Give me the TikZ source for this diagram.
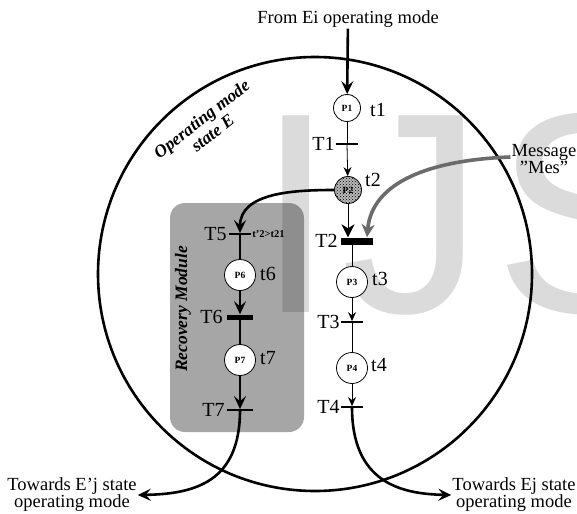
\documentclass[tikz,border=0pt]{standalone}
\usepackage{fontspec}
\setmainfont{Liberation Serif}
\newfontfamily\markfont{Liberation Sans}
\usepackage{tikz}
\usetikzlibrary{arrows.meta,patterns}
\definecolor{boxgray}{HTML}{A6A6A6}
\definecolor{msggray}{HTML}{6B6B6B}
\tikzset{place/.style={circle,draw,line width=0.8,fill=white,minimum size=27,
        inner sep=0,font=\fontsize{9.5}{10}\selectfont\bfseries},
    bigplace/.style={place,minimum size=31},
    bar/.style={fill=black,inner sep=0,minimum width=22,minimum height=1.4},
    thickbar/.style={bar,minimum height=6},
    lbl/.style={font=\fontsize{20}{22}\selectfont,inner sep=1},
    note/.style={font=\fontsize{18.5}{17}\selectfont,align=center,inner sep=1},
    flow/.style={line width=2.6,-{Stealth[length=13,width=12,inset=5]}},
    arc/.style={line width=0.8},
    tip/.style={line width=0.8,-{Stealth[length=9,width=8,inset=3]}}}

\begin{document}
\begin{tikzpicture}[x=1pt,y=-1pt,
        heavy/.style={line width=2.6},
        emph/.style={font=\fontsize{17.5}{18}\selectfont\bfseries\itshape,align=center}]
    \useasboundingbox (0,0) rectangle (577,513);
    \fill[boxgray,rounded corners=15] (170,203) rectangle (304,432);
    \begin{scope}
        \clip (0,0) rectangle (577,513);
        \node[anchor=base west,inner sep=0,text=black,text opacity=0.14,
            font=\markfont\fontsize{286}{286}\selectfont] (mark) at (256,312) {I\kern 6pt J\kern 10pt S};
    \end{scope}
    \draw[line width=2.6] (315,274) circle [radius=217];

    \node[place] (P1) at (347,108) {P1};
    \node[bar] (T1) at (347,144) {};
    \node[place,preaction={fill=gray!55},pattern=crosshatch dots] (P2) at (348,190) {P2};
    \node[thickbar,minimum width=32,minimum height=7] (T2) at (357,241) {};
    \node[bigplace] (P3) at (352,282) {P3};
    \node[bar] (T3) at (352,322) {};
    \node[bigplace] (P4) at (352,368) {P4};
    \node[bar] (T4) at (352,407) {};

    \node[bar] (T5) at (240,234) {};
    \node[bigplace] (P6) at (240,275) {P6};
    \node[thickbar,minimum width=26,minimum height=5] (T6) at (240,317) {};
    \node[bigplace] (P7) at (240,360) {P7};
    \node[bar,minimum width=26] (T7) at (240,410) {};

    \node[lbl,anchor=west] (t1) at (369,110) {t1};
    \node[lbl,anchor=west] (t2) at (364,180) {t2};
    \node[lbl,anchor=west] (t3) at (371,279) {t3};
    \node[lbl,anchor=west] (t4) at (370,365) {t4};
    \node[lbl,anchor=west] (t6) at (259,274) {t6};
    \node[lbl,anchor=west] (t7) at (259,358) {t7};
    \node[lbl,anchor=east] (l1) at (T1.west) {T1};
    \node[lbl,anchor=east] (l2) at ([xshift=-2]T2.west) {T2};
    \node[lbl,anchor=east] (l3) at (T3.west) {T3};
    \node[lbl,anchor=east] (l4) at (T4.west) {T4};
    \node[lbl,anchor=east] (l5) at ([xshift=-1]T5.west) {T5};
    \node[lbl,anchor=east] (l6) at ([xshift=-3]T6.west) {T6};
    \node[lbl,anchor=east] (l7) at ([xshift=-1]T7.west) {T7};
    \node[anchor=west,inner sep=1,font=\fontsize{10.5}{11}\selectfont\bfseries] (cond) at (T5.east) {t'2>t21};

    \node[note] (src) at (348,19) {From Ei operating mode};
    \node[note] (mes) at (544,159) {Message\\"Mes"};
    \node[note] (tej) at (72,495) {Towards E'j state\\operating mode};
    \node[note] (tj) at (514,495) {Towards Ej state\\operating mode};
    \node[emph,rotate=38] (opmode) at (207,126) {Operating mode\\state E};
    \node[emph,rotate=90] (recov) at (183,309) {Recovery Module};

    \draw[flow] (src) -- (P1);
    \draw[arc] (P1) -- (T1);
    \draw[tip] (T1) -- (P2);
    \draw[arc,-{Stealth[length=13,width=13,inset=4]}] (P2) -- (P2 |- T2.north);
    \draw[arc] (T2.south -| P3) -- (P3);
    \draw[tip] (P3) -- (T3);
    \draw[arc] (T3) -- (P4);
    \draw[tip] (P4) -- (T4);
    \draw[msggray,line width=3.6,-{Stealth[length=13,width=13,inset=4]}]
        ([yshift=2]mes.west) .. controls (430,160) and (372,182) .. ([xshift=10]T2.north);

    \draw[flow] (P2.west) to[out=180,in=90] (T5.north);
    \draw[heavy] (T5) -- (P6);
    \draw[flow] (P6) -- (T6);
    \draw[heavy] (T6) -- (P7);
    \draw[flow] (P7) -- (T7);

    \draw[flow] (T7.center) .. controls (240,482) and (195,494) .. (tej.east);
    \draw[flow] (T4.center) .. controls (352,482) and (400,494) .. (tj.west);
\end{tikzpicture}
\end{document}
